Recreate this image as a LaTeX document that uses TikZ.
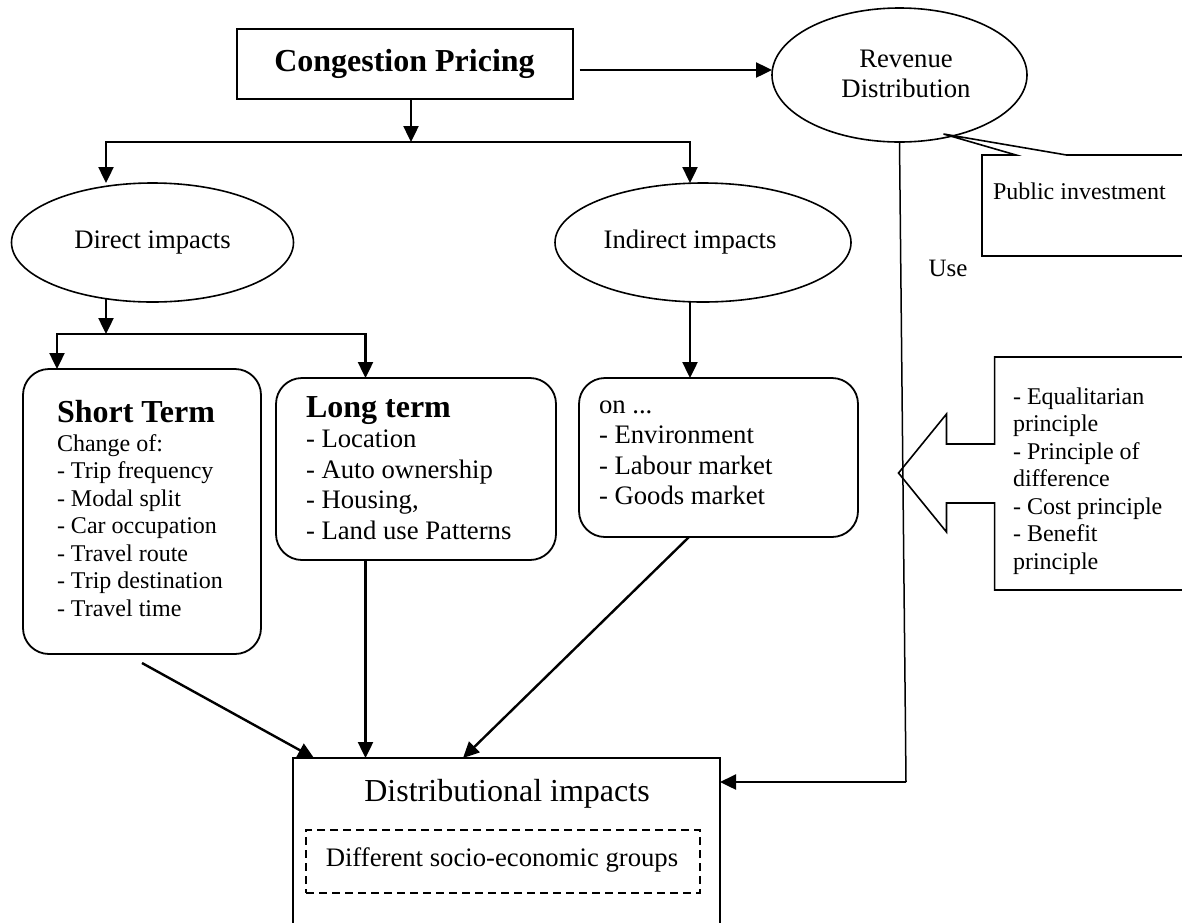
\documentclass[tikz,border=0pt]{standalone}
\usepackage{fontspec}
\setmainfont{Liberation Serif}
\usetikzlibrary{arrows.meta,calc,shapes.geometric}

\begin{document}
\begin{tikzpicture}[x=1pt,y=-1pt,
  every node/.style={inner sep=0pt, outer sep=0pt},
  frame/.style={draw, line width=2pt},
  oval/.style={draw, ellipse, line width=1.6pt},
  roundbox/.style={draw, line width=1.8pt, rounded corners=26pt},
  arr/.style={line width=2.4pt, -{Triangle[length=16pt,width=15pt]}},
  bigtext/.style={font=\fontsize{32}{36}\selectfont},
  midtext/.style={font=\fontsize{26.7}{30.5}\selectfont},
  smalltext/.style={font=\fontsize{24}{27.5}\selectfont},
]
\clip (0,0) rectangle (1182,922);

% ---- boxes and ovals ----
\node[frame, minimum width=336pt, minimum height=70pt] (cp) at (404.5,64) {};
\node[oval, minimum width=255pt, minimum height=134pt] (rev) at (899.5,75) {};
\node[oval, minimum width=282pt, minimum height=119pt] (direct) at (152.5,242.5) {};
\node[oval, minimum width=296pt, minimum height=119pt] (indirect) at (703,242.5) {};
\node[roundbox, minimum width=238pt, minimum height=285pt] (short) at (142,511.5) {};
\node[roundbox, minimum width=280pt, minimum height=182pt] (long) at (416,469) {};
\node[roundbox, minimum width=279pt, minimum height=159pt] (ind) at (718.5,457.5) {};
\node[draw, line width=1.6pt, minimum width=427pt, minimum height=220pt] (dist) at (506.5,868) {};
\node[draw, line width=1.6pt, dash pattern=on 8pt off 5pt, minimum width=394pt, minimum height=63pt] (groups) at (503,861.5) {};

% ---- texts ----
\node[anchor=base, font=\fontsize{32}{36}\selectfont\bfseries] (cptext) at (404.5,71) {Congestion Pricing};
\node[anchor=north, align=center, midtext] (revtext) at (906,50) {Revenue\\Distribution};
\node[anchor=base, midtext] (directtext) at (152.5,248) {Direct impacts};
\node[anchor=base, midtext] (indirecttext) at (690,248) {Indirect impacts};
\node[anchor=north west, align=left, smalltext] (shorttext) at (57,400)
  {{\fontsize{32}{36}\selectfont\bfseries Short Term}\\[1.7pt]
   Change of:\\- Trip frequency\\- Modal split\\- Car occupation\\- Travel route\\- Trip destination\\- Travel time};
\node[anchor=north west, align=left, midtext] (longtext) at (306,396.5)
  {{\fontsize{32}{36}\selectfont\bfseries Long term}\\
   - Location\\- Auto ownership\\- Housing,\\- Land use Patterns};
\node[anchor=north west, align=left, midtext] (indtext) at (599,396)
  {\vphantom{E}on ...\\- Environment\\- Labour market\\- Goods market};
\node[anchor=north west, align=left, smalltext] (princtext) at (1013,387.6)
  {- Equalitarian\\principle\\- Principle of\\difference\\- Cost principle\\- Benefit\\principle};
\node[anchor=base west, smalltext] (pubtext) at (993,199) {Public investment};
\node[anchor=base, font=\fontsize{25}{29}\selectfont] (usetext) at (948,276.5) {Use};
\node[anchor=base, bigtext] (disttext) at (507,801) {Distributional impacts};
\node[anchor=base, midtext] (groupstext) at (502,866) {Different socio-economic groups};

% ---- callout shapes ----
\draw[line width=1.6pt] (982,155) -- (1016,155) -- (943.5,134) -- (1066.5,155)
  -- (1200,155) -- (1200,256) -- (982,256) -- cycle;
\draw[line width=1.6pt] (994.6,357) -- (1200,357) -- (1200,590) -- (994.6,590)
  -- (994.6,503) -- (946.5,503) -- (946.5,532) -- (898.5,473) -- (946.5,414)
  -- (946.5,444) -- (994.6,444) -- cycle;

% ---- connectors ----
\coordinate (busTop) at (411,142);
\coordinate (busTopL) at (106,142);
\coordinate (busTopR) at (690,142);
\draw[arr] (cp.south -| busTop) -- (busTop);
\draw[arr] (busTop) -- (busTopL) -- (busTopL |- direct.north);
\draw[arr] (busTop) -- (busTopR) -- (busTopR |- indirect.north);

\coordinate (cpOut) at ($(cp.east)+(7,6)$);
\draw[arr] (cpOut) -- (cpOut -| rev.west);

\coordinate (busMid) at (106,334);
\coordinate (busMidL) at (57,334);
\coordinate (busMidR) at (365.5,334);
\draw[arr] (busMid |- direct.230) -- (busMid);
\draw[arr] (busMid) -- (busMidL) -- (busMidL |- short.north);
\draw[arr] (busMid) -- (busMidR) -- (busMidR |- long.north);

\draw[arr] (indirect.south -| busTopR) -- (busTopR |- ind.north);

\coordinate (inS) at (314,758);
\coordinate (inI) at (463,758);
\coordinate (outI) at (689,537);
\draw[arr] ($(short.south)+(0,9)$) -- (inS |- dist.north);
\draw[arr] (long.south -| busMidR) -- (busMidR |- dist.north);
\draw[arr] (outI |- ind.south) -- (inI |- dist.north);

\coordinate (bend) at (906,782);
\draw[line width=1.5pt] (rev.south) -- (bend);
\draw[arr] (bend) -- (bend -| dist.east);
\end{tikzpicture}
\end{document}
